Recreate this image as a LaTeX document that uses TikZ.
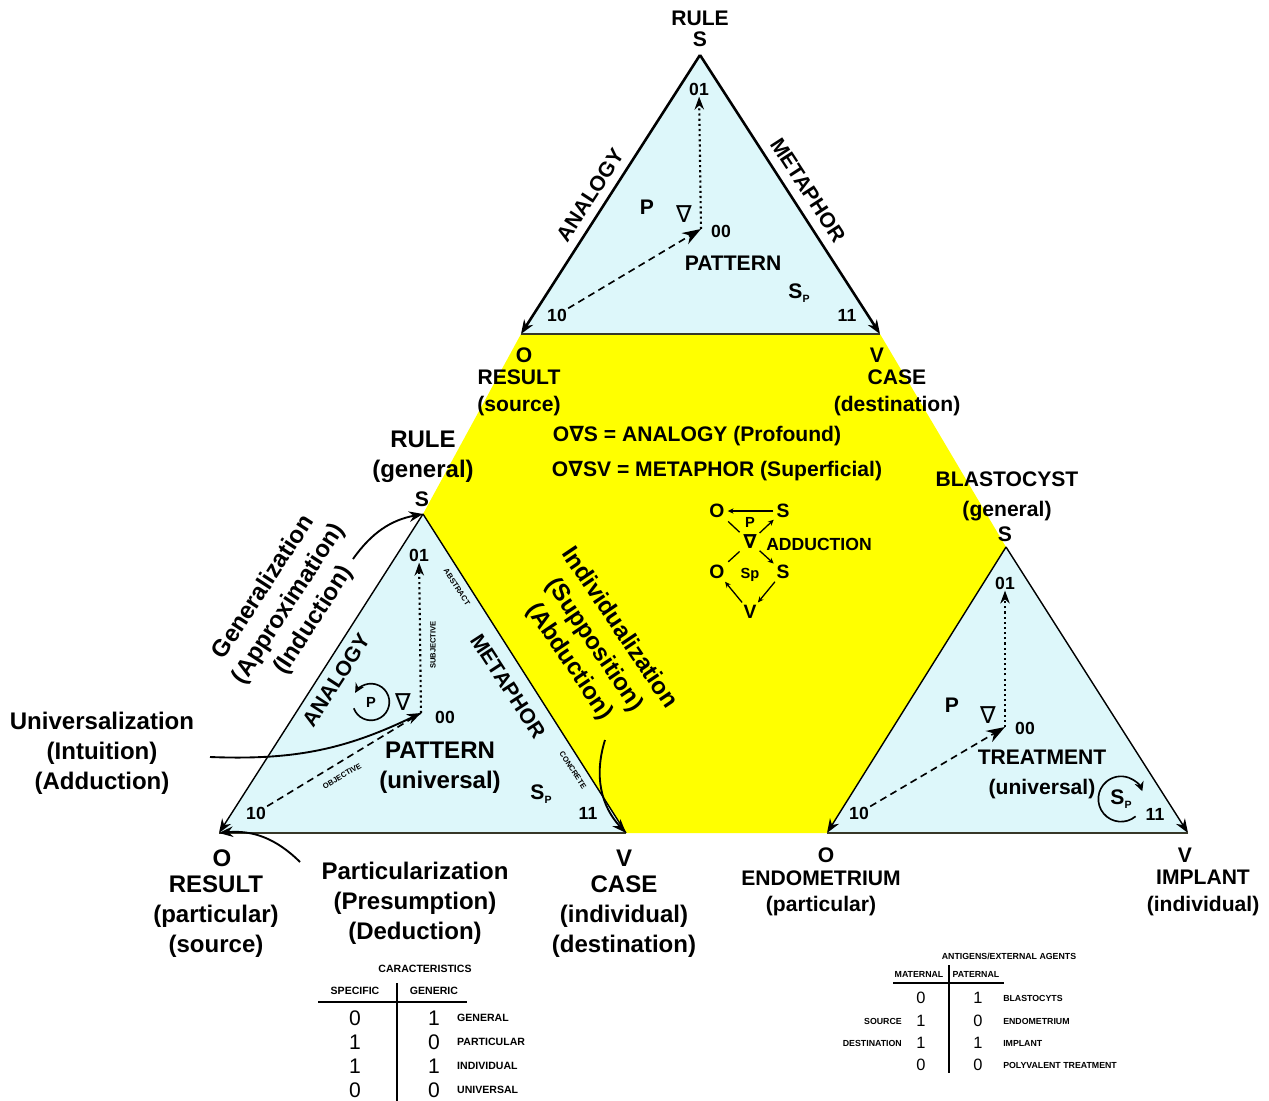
\documentclass[tikz,border=0pt]{standalone}
\usepackage{fontspec}
\setmainfont{Liberation Sans}
\newfontfamily\symfont{DejaVu Sans}
\usepackage{tikz}
\usetikzlibrary{arrows.meta}
\usepackage{xcolor}
\definecolor{paleblue}{RGB}{221, 247, 250}
\definecolor{hexyellow}{RGB}{255, 255, 0}
\definecolor{edgegray}{RGB}{55, 55, 40}
\newcommand{\tnab}{{\symfont ∇}}
\newcommand{\SubP}{S\raisebox{-0.35ex}{\fontsize{9}{9}\selectfont P}}

\begin{document}
\begin{tikzpicture}[
    x=0.03cm, y=-0.03cm,
    lbl/.style={font=\bfseries\fontsize{18}{25.6}\selectfont, align=center, inner sep=1pt},
    lbig/.style={font=\bfseries\fontsize{20.5}{25.6}\selectfont, align=center, inner sep=1pt},
    lbltight/.style={font=\bfseries\fontsize{18}{22.5}\selectfont, align=center, inner sep=1pt},
    num/.style={font=\bfseries\fontsize{15}{17}\selectfont, inner sep=1pt},
    tag/.style={font=\bfseries\fontsize{6.5}{7}\selectfont, inner sep=0pt},
    mini/.style={font=\bfseries\fontsize{16.5}{18}\selectfont, inner sep=1.5pt},
    minismall/.style={font=\bfseries\fontsize{12.5}{14}\selectfont, inner sep=1pt},
    cell/.style={font=\fontsize{18}{20}\selectfont, inner sep=0pt},
    cellsmall/.style={font=\fontsize{14}{16}\selectfont, inner sep=0pt},
    hdr/.style={font=\bfseries\fontsize{9}{10}\selectfont, inner sep=0pt},
    hdrsmall/.style={font=\bfseries\fontsize{7.5}{8}\selectfont, inner sep=0pt},
    sideedge/.style={-{Stealth[length=12pt,width=9pt]}, line width=1.2pt},
    thinedge/.style={line width=1.2pt},
    bottomedge/.style={line width=1.8pt, draw=edgegray},
    arrow/.style={-{Stealth[length=12pt,width=9pt]}, line width=1.6pt},
    dashedarrow/.style={dash pattern=on 6pt off 4pt, line width=1.4pt, -{Stealth[length=16pt,width=11pt]}},
    dottedarrow/.style={dash pattern=on 1.8pt off 2.6pt, line width=1.8pt, -{Stealth[length=11pt,width=8pt]}},
    circarrow/.style={-{Stealth[length=8pt,width=8pt]}, line width=1.4pt},
    miniarrow/.style={-{Stealth[length=5pt,width=4.5pt]}, line width=1.1pt, shorten >=1pt, shorten <=1pt},
    miniline/.style={line width=1.1pt, shorten >=2pt, shorten <=2pt}
]
    \useasboundingbox (0,0) rectangle (1269,1101);

    % corners of the three triangles
    \coordinate (tS) at (700,55);
    \coordinate (tO) at (521,334);
    \coordinate (tV) at (880,334);
    \coordinate (lS) at (423,514);
    \coordinate (lO) at (219,833);
    \coordinate (lV) at (626,833);
    \coordinate (rS) at (1006,547);
    \coordinate (rO) at (827,833);
    \coordinate (rV) at (1188,833);

    % fills
    \fill[hexyellow] (tO) -- (tV) -- (rS) -- (rO) -- (lV) -- (lS) -- cycle;
    \fill[paleblue] (tS) -- (tO) -- (tV) -- cycle;
    \fill[paleblue] (lS) -- (lO) -- (lV) -- cycle;
    \fill[paleblue] (rS) -- (rO) -- (rV) -- cycle;

    % edges
    \draw[sideedge, line width=2.2pt] (tS) -- (tO);
    \draw[sideedge, line width=2.2pt] (tS) -- (tV);
    \draw[bottomedge] (tO) -- (tV);
    \draw[sideedge] (lS) -- (lO);
    \draw[thinedge] (lS) -- (lV);
    \draw[bottomedge] (lO) -- (lV);
    \draw[sideedge] (rS) -- (rO);
    \draw[sideedge] (rS) -- (rV);
    \draw[bottomedge] (rO) -- (rV);

    % top triangle
    \node[lbl] (tRule) at (700,18) {RULE};
    \node[lbl] (tSl) at (700,39) {S};
    \node[num] (t01) at (699,89) {01};
    \node[num] (t00) at (721,231) {00};
    \node[num] (t10) at (557,315) {10};
    \node[num] (t11) at (847,315) {11};
    \coordinate (tc) at (701,229);
    \node[lbl] (tP) at (647,207) {P};
    \node[lbl, font=\mdseries\fontsize{20}{22}\selectfont] (tNab) at (684,214) {\tnab};
    \node[lbl] (tPat) at (733,263) {PATTERN};
    \node[lbl] (tSp) at (799,293) {\SubP};
    \node[lbl, rotate=57] (tAna) at (590,195) {ANALOGY};
    \node[lbl, rotate=-57] (tMet) at (808,190) {METAPHOR};
    \node[lbl] (tOl) at (524,355) {O};
    \node[lbltight] (tRes) at (519,393) {RESULT\\(source)};
    \node[lbl] (tVl) at (877,355) {V};
    \node[lbltight] (tCase) at (897,393) {CASE\\(destination)};
    \draw[dottedarrow] (tc) -- (t01);
    \draw[dashedarrow] (t10) -- (tc);

    % centre
    \node[lbl] (eqA) at (697,436) {O\tnab S = ANALOGY (Profound)};
    \node[lbl] (eqM) at (717,471) {O\tnab SV = METAPHOR (Superficial)};
    \node[mini] (mO1) at (717,511) {O};
    \node[mini] (mS1) at (783,511) {S};
    \node[minismall] (mP) at (750,522) {P};
    \node[mini] (mNab) at (750,542) {\tnab};
    \node[mini, font=\bfseries\fontsize{15}{17}\selectfont] (mAdd) at (819,544) {ADDUCTION};
    \node[mini] (mO2) at (717,572) {O};
    \node[minismall] (mSp) at (750,575) {Sp};
    \node[mini] (mS2) at (783,572) {S};
    \node[mini] (mV) at (750,612) {V};
    \draw[miniarrow] (mS1) -- (mO1);
    \draw[miniline] (mO1) -- (mNab);
    \draw[miniarrow] (mNab) -- (mS1);
    \draw[miniline] (mNab) -- (mO2);
    \draw[miniarrow] (mNab) -- (mS2);
    \draw[miniarrow] (mS2) -- (mV);
    \draw[miniarrow] (mV) -- (mO2);

    % left triangle
    \node[lbig] (lRule) at (423,457) {RULE\\(general)};
    \node[lbl] (lSl) at (422,499) {S};
    \node[num] (l01) at (419,555) {01};
    \node[num] (l00) at (445,717) {00};
    \node[num] (l10) at (256,813) {10};
    \node[num] (l11) at (588,813) {11};
    \coordinate (lc) at (421,713);
    \node[tag, rotate=-57] (lAbs) at (457,587) {ABSTRACT};
    \node[tag, rotate=90] (lSub) at (433,645) {SUBJECTIVE};
    \node[tag, rotate=30] (lObj) at (342,776) {OBJECTIVE};
    \node[tag, rotate=-57] (lCon) at (573,770) {CONCRETE};
    \node[lbl, rotate=57] (lAna) at (336,680) {ANALOGY};
    \node[lbl, rotate=-57] (lMet) at (508,686) {METAPHOR};
    \node[minismall] (lP) at (371,702) {P};
    \node[lbl, font=\mdseries\fontsize{20}{22}\selectfont] (lNab) at (403,702) {\tnab};
    \node[lbig] (lPat) at (440,768) {PATTERN\\(universal)};
    \node[lbl] (lSp) at (541,794) {\SubP};
    \node[lbig] (lOl) at (222,858) {O};
    \node[lbig] (lRes) at (216,917) {RESULT\\(particular)\\(source)};
    \node[lbig] (lVl) at (624,858) {V};
    \node[lbig] (lCase) at (624,917) {CASE\\(individual)\\(destination)};
    \draw[dottedarrow] (lc) -- (l01);
    \draw[dash pattern=on 6pt off 4pt, line width=1.4pt] (l10) -- (lc);
    \draw[circarrow] ([shift={(200:0.55cm)}]lP.center) arc[start angle=200, end angle=510, radius=0.55cm];

    % inference labels round the left triangle
    \node[lbig] (univ) at (102,753) {Universalization\\(Intuition)\\(Adduction)};
    \node[lbig, rotate=57] (gen) at (289,604) {Generalization\\(Approximation)\\(Induction)};
    \node[lbig, rotate=-56] (indiv) at (594,645) {Individualization\\(Supposition)\\(Abduction)};
    \node[lbig] (part) at (415,903) {Particularization\\(Presumption)\\(Deduction)};
    \coordinate (univStart) at (210,757);
    \coordinate (genStart) at (353,559);
    \coordinate (indivStart) at (605,740);
    \coordinate (partStart) at (300,862);
    \draw[arrow] (univStart) to[bend right=14] (lc);
    \draw[arrow] (genStart) to[bend left=22] (lS);
    \draw[arrow] (indivStart) to[bend right=30] (lV);
    \draw[arrow] (partStart) to[bend right=25] (lO);

    % right triangle
    \node[lbl] (rBla) at (1007,496) {BLASTOCYST\\(general)};
    \node[lbl] (rSl) at (1005,534) {S};
    \node[num] (r01) at (1005,583) {01};
    \node[num] (r00) at (1025,728) {00};
    \node[num] (r10) at (859,813) {10};
    \node[num] (r11) at (1155,814) {11};
    \coordinate (rc) at (1005,727);
    \node[lbl] (rP) at (952,705) {P};
    \node[lbl, font=\mdseries\fontsize{20}{22}\selectfont] (rNab) at (988,715) {\tnab};
    \node[lbl] (rTre) at (1042,774) {TREATMENT\\(universal)};
    \node[lbl] (rSp) at (1121,799) {\SubP};
    \node[lbl] (rOl) at (826,855) {O};
    \node[lbltight] (rEnd) at (821,893) {ENDOMETRIUM\\(particular)};
    \node[lbl] (rVl) at (1185,855) {V};
    \node[lbltight] (rImp) at (1203,893) {IMPLANT\\(individual)};
    \draw[dottedarrow] (rc) -- (r01);
    \draw[dashedarrow] (r10) -- (rc);
    \draw[circarrow] ([shift={(-50:0.68cm)}]rSp.center) arc[start angle=-50, end angle=-340, radius=0.68cm];

    % table of caracteristics
    \node[hdr] (carHead) at (425,969) {CARACTERISTICS};
    \node[hdr] (specHead) at (355,991) {SPECIFIC};
    \node[hdr] (genHead) at (434,991) {GENERIC};
    \draw[line width=1.6pt] (318,1002) -- (467,1002);
    \draw[line width=1.6pt] (397,983) -- (397,1101);
    \node[cell] (specA) at (355,1018) {0};
    \node[cell] (genA) at (434,1018) {1};
    \node[hdr, anchor=west] (rowA) at (457,1018) {GENERAL};
    \node[cell] (specB) at (355,1042) {1};
    \node[cell] (genB) at (434,1042) {0};
    \node[hdr, anchor=west] (rowB) at (457,1042) {PARTICULAR};
    \node[cell] (specC) at (355,1066) {1};
    \node[cell] (genC) at (434,1066) {1};
    \node[hdr, anchor=west] (rowC) at (457,1066) {INDIVIDUAL};
    \node[cell] (specD) at (355,1090) {0};
    \node[cell] (genD) at (434,1090) {0};
    \node[hdr, anchor=west] (rowD) at (457,1090) {UNIVERSAL};

    % table of antigens
    \node[hdrsmall] (antHead) at (1009,956) {ANTIGENS/EXTERNAL AGENTS};
    \node[hdrsmall] (matHead) at (919,974) {MATERNAL};
    \node[hdrsmall] (patHead) at (976,974) {PATERNAL};
    \draw[line width=1.4pt] (893,983) -- (1004,983);
    \draw[line width=1.4pt] (949,965) -- (949,1073);
    \node[cellsmall] (matA) at (921,998) {0};
    \node[cellsmall] (patA) at (978,998) {1};
    \node[hdrsmall, anchor=west] (antA) at (1003,998) {BLASTOCYTS};
    \node[hdrsmall, anchor=east] (srcB) at (902,1021) {SOURCE};
    \node[cellsmall] (matB) at (921,1021) {1};
    \node[cellsmall] (patB) at (978,1021) {0};
    \node[hdrsmall, anchor=west] (antB) at (1003,1021) {ENDOMETRIUM};
    \node[hdrsmall, anchor=east] (dstC) at (902,1043) {DESTINATION};
    \node[cellsmall] (matC) at (921,1043) {1};
    \node[cellsmall] (patC) at (978,1043) {1};
    \node[hdrsmall, anchor=west] (antC) at (1003,1043) {IMPLANT};
    \node[cellsmall] (matD) at (921,1065) {0};
    \node[cellsmall] (patD) at (978,1065) {0};
    \node[hdrsmall, anchor=west] (antD) at (1003,1065) {POLYVALENT TREATMENT};
\end{tikzpicture}
\end{document}
